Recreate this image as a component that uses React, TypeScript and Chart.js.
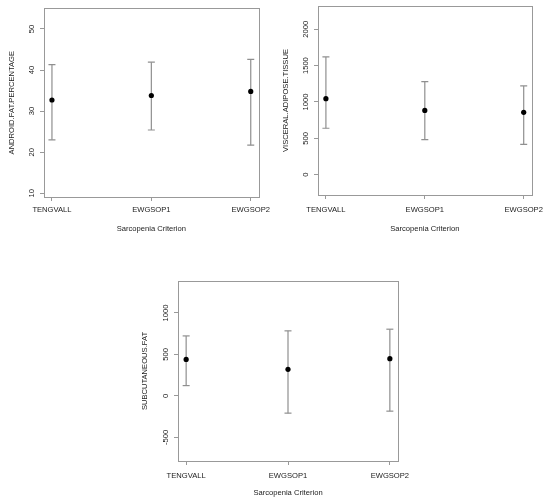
import { useEffect, useRef } from "react";
import { Chart, registerables } from "chart.js";

Chart.register(...registerables);

const categories = ["TENGVALL", "EWGSOP1", "EWGSOP2"];
const xTitle = "Sarcopenia Criterion";

// android fat percentage
const androidMean = [32.7, 33.8, 34.8];
const androidLow = [23.0, 25.4, 21.7];
const androidHigh = [41.3, 41.9, 42.6];
const androidTicks = [10, 20, 30, 40, 50];

// visceral adipose tissue
const visceralMean = [1045, 884, 857];
const visceralLow = [638, 482, 417];
const visceralHigh = [1620, 1280, 1220];
const visceralTicks = [0, 500, 1000, 1500, 2000];

// subcutaneous fat
const subcutMean = [440, 320, 448];
const subcutLow = [124, -208, -184];
const subcutHigh = [723, 784, 804];
const subcutTicks = [-500, 0, 500, 1000];

const FONT = "'Liberation Sans', Arial, sans-serif";
const TEXT = "#1a1a1a";
const FRAME = "#999";
const BAR = "#8f8f8f";

type PanelProps = {
  yLabel: string;
  mean: number[];
  low: number[];
  high: number[];
  yTicks: number[];
  yMin: number;
  yMax: number;
  w: number;
  h: number;
  plot: { left: number; top: number; right: number; bottom: number };
  yTickPad: number;
  yTitlePad: number;
  xTickPad: number;
  xTitlePad: number;
};

const framePlugin = {
  id: "frame",
  afterDraw(chart: Chart) {
    const { ctx, chartArea } = chart;
    ctx.save();
    ctx.strokeStyle = FRAME;
    ctx.lineWidth = 1;
    ctx.strokeRect(
      Math.round(chartArea.left) + 0.5,
      Math.round(chartArea.top) + 0.5,
      Math.round(chartArea.right - chartArea.left),
      Math.round(chartArea.bottom - chartArea.top)
    );
    ctx.restore();
  },
};

const Panel = (p: PanelProps) => {
  const ref = useRef<HTMLCanvasElement | null>(null);

  useEffect(() => {
    if (!ref.current) return;
    const bars = categories.map((_, i) => ({
      type: "line" as const,
      data: [
        { x: i + 1, y: p.low[i] },
        { x: i + 1, y: p.high[i] },
      ],
      showLine: true,
      borderColor: BAR,
      borderWidth: 1.2,
      pointStyle: "line" as const,
      pointRadius: 3.5,
      pointBorderColor: BAR,
      pointBorderWidth: 1.2,
      pointHoverRadius: 3.5,
    }));
    const chart = new Chart(ref.current, {
      type: "scatter",
      data: {
        datasets: [
          {
            data: categories.map((_, i) => ({ x: i + 1, y: p.mean[i] })),
            pointRadius: 2.6,
            pointBackgroundColor: "#000",
            pointBorderColor: "#000",
            pointBorderWidth: 0,
          },
          ...bars,
        ] as any,
      },
      options: {
        animation: false,
        responsive: true,
        maintainAspectRatio: false,
        layout: {
          padding: { left: 0, top: p.plot.top, right: p.w - p.plot.right, bottom: 0 },
        },
        plugins: { legend: { display: false }, tooltip: { enabled: false } },
        scales: {
          x: {
            type: "linear",
            min: 0.92,
            max: 3.08,
            afterBuildTicks: (s: any) => {
              s.ticks = categories.map((_, i) => ({ value: i + 1 }));
            },
            afterFit: (s: any) => {
              s.height = p.h - p.plot.bottom;
            },
            grid: { drawOnChartArea: false, drawTicks: true, tickLength: 4, color: FRAME },
            border: { display: true, color: FRAME },
            ticks: {
              color: TEXT,
              font: { family: FONT, size: 7.6 },
              padding: p.xTickPad,
              maxRotation: 0,
              autoSkip: false,
              callback: (v: any) => categories[Math.round(Number(v)) - 1] ?? "",
            },
            title: {
              display: true,
              text: xTitle,
              color: TEXT,
              font: { family: FONT, size: 7.6 },
              padding: { top: 0, bottom: p.xTitlePad },
            },
          },
          y: {
            type: "linear",
            min: p.yMin,
            max: p.yMax,
            afterBuildTicks: (s: any) => {
              s.ticks = p.yTicks.map((v) => ({ value: v }));
            },
            afterFit: (s: any) => {
              s.width = p.plot.left;
            },
            grid: { drawOnChartArea: false, drawTicks: true, tickLength: 4, color: FRAME },
            border: { display: true, color: FRAME },
            ticks: {
              color: TEXT,
              font: { family: FONT, size: 7.6 },
              padding: p.yTickPad,
              minRotation: 90,
              maxRotation: 90,
              crossAlign: "center",
              autoSkip: false,
              callback: (v: any) => String(v),
            },
            title: {
              display: true,
              text: p.yLabel,
              color: TEXT,
              font: { family: FONT, size: 7.6 },
              padding: { top: p.yTitlePad, bottom: 0 },
            },
          },
        },
      },
      plugins: [framePlugin],
    });
    return () => {
      chart.destroy();
    };
  }, []);

  return (
    <div style={{ position: "relative", width: p.w, height: p.h }}>
      <canvas ref={ref} />
    </div>
  );
};

export default function App() {
  return (
    <div style={{ position: "absolute", left: 0, top: 0, width: 550, height: 504, background: "#fff" }}>
      <div style={{ position: "absolute", left: 0, top: 0 }}>
        <Panel
          yLabel="ANDROID.FAT.PERCENTAGE"
          mean={androidMean}
          low={androidLow}
          high={androidHigh}
          yTicks={androidTicks}
          yMin={9.1}
          yMax={55}
          w={275}
          h={245}
          plot={{ left: 44, top: 6, right: 260, bottom: 197 }}
          yTickPad={3.8}
          yTitlePad={7.4}
          xTickPad={4.5}
          xTitlePad={11.4}
        />
      </div>
      <div style={{ position: "absolute", left: 275, top: 0 }}>
        <Panel
          yLabel="VISCERAL.ADIPOSE.TISSUE"
          mean={visceralMean}
          low={visceralLow}
          high={visceralHigh}
          yTicks={visceralTicks}
          yMin={-280}
          yMax={2320}
          w={275}
          h={245}
          plot={{ left: 43, top: 6, right: 259, bottom: 195 }}
          yTickPad={-0.3}
          yTitlePad={6.4}
          xTickPad={6.5}
          xTitlePad={11.1}
        />
      </div>
      <div style={{ position: "absolute", left: 130, top: 260 }}>
        <Panel
          yLabel="SUBCUTANEOUS.FAT"
          mean={subcutMean}
          low={subcutLow}
          high={subcutHigh}
          yTicks={subcutTicks}
          yMin={-785}
          yMax={1385}
          w={290}
          h={244}
          plot={{ left: 48, top: 21, right: 268, bottom: 201 }}
          yTickPad={-0.4}
          yTitlePad={10.4}
          xTickPad={6.5}
          xTitlePad={6.1}
        />
      </div>
    </div>
  );
}
